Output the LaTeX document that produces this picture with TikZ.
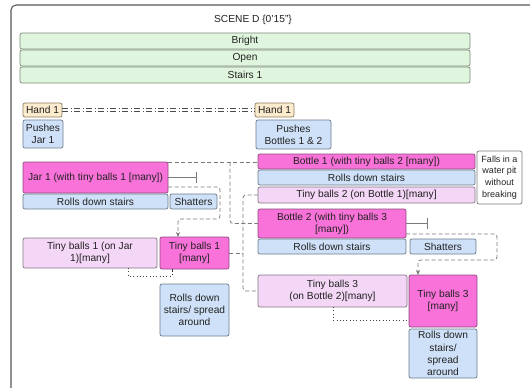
\documentclass[tikz,border=0pt]{standalone}
\usepackage{fontspec}
\setmainfont{Liberation Sans}
\usetikzlibrary{arrows.meta}
\definecolor{pinkF}{HTML}{F872D9}
\definecolor{pinkD}{HTML}{8E4A80}
\definecolor{lpinkF}{HTML}{F4D6F6}
\definecolor{lpinkD}{HTML}{857887}
\definecolor{blueF}{HTML}{CFE1F8}
\definecolor{blueD}{HTML}{6C7C8E}
\definecolor{greenF}{HTML}{DFF5DD}
\definecolor{greenD}{HTML}{7A8A77}
\definecolor{creamF}{HTML}{FCEBCC}
\definecolor{creamD}{HTML}{8C7C60}
\definecolor{linkC}{HTML}{7A7A7A}
\definecolor{inkC}{HTML}{222222}
\newcommand\mkbox[6]{\node[#1, anchor=north west, minimum width=#4pt, minimum height=#5pt] (#2) at (#3) {#6};}
\begin{document}
\begin{tikzpicture}[x=1pt, y=-1pt,
  font=\fontsize{10.2}{12.2}\selectfont, text=inkC,
  card/.style={draw, rounded corners=2pt, inner sep=0pt, outer sep=0pt, align=center, line width=0.7pt},
  pinkbox/.style={card, fill=pinkF, draw=pinkD},
  lpinkbox/.style={card, fill=lpinkF, draw=lpinkD},
  bluebox/.style={card, fill=blueF, draw=blueD},
  greenbox/.style={card, fill=greenF, draw=greenD},
  handbox/.style={card, fill=creamF, draw=creamD},
  notebox/.style={card, fill=white, draw=linkC, font=\fontsize{9}{11.8}\selectfont},
  link/.style={draw=linkC, line width=0.8pt, dash pattern=on 4pt off 2.5pt, rounded corners=3pt},
  trace/.style={draw=black!75, line width=0.9pt, dash pattern=on 0.9pt off 2.4pt},
  stop/.style={draw=linkC, line width=0.8pt, -{Bar[width=11pt, line width=0.8pt]}},
  flow/.style={link, -{Stealth[length=5pt, width=4pt, fill=black]}},
  tie/.style={draw=black!70, line width=0.7pt, dash pattern=on 6pt off 2.5pt on 1pt off 2.5pt}
]
\useasboundingbox (0,0) rectangle (530,388);
\fill[white] (0,0) rectangle (530,388);

% scene frame
\draw[black!65, line width=1.1pt, rounded corners=5pt] (11,392) -- (11,5) -- (534,5);
\node (title) at (253,20) {SCENE D \{0’15”\}};

% scene settings
\mkbox{greenbox}{bright}{20,33}{450}{16}{Bright}
\mkbox{greenbox}{open}{20,50}{450}{16}{Open}
\mkbox{greenbox}{stairs}{20,67}{450}{16}{Stairs 1}

% actors, tied by a double dash-dot line
\mkbox{handbox}{handL}{23,103}{39}{14}{Hand 1}
\mkbox{handbox}{handR}{255,103}{39}{14}{Hand 1}
\draw[tie] ([yshift=1.3pt]handL.east) -- ([yshift=1.3pt]handR.west);
\draw[tie] ([yshift=-1.3pt]handL.east) -- ([yshift=-1.3pt]handR.west);
\mkbox{bluebox}{pushJar}{23,120}{40}{28}{Pushes\\Jar 1}
\mkbox{bluebox}{pushBot}{256,120}{75}{29}{Pushes\\Bottles 1 \& 2}

% jar branch
\mkbox{pinkbox}{jar}{23,162}{145}{31}{Jar 1 (with tiny balls 1 [many])}
\mkbox{bluebox}{rollJar}{23,194}{145}{15}{Rolls down stairs}
\mkbox{bluebox}{shatJar}{170,194}{47}{15}{Shatters}
\mkbox{lpinkbox}{tbOnJar}{23,238}{134}{30}{Tiny balls 1 (on Jar\\1)[many]}
\mkbox{pinkbox}{tb1}{160,237}{69}{32}{Tiny balls 1\\{}[many]}
\mkbox{bluebox}{spread1}{160,284}{69}{52}{Rolls down\\stairs/ spread\\around}

% bottle branch
\mkbox{pinkbox}{bot1}{258,154}{217}{15}{Bottle 1 (with tiny balls 2 [many])}
\mkbox{bluebox}{rollBot1}{258,170}{217}{15}{Rolls down stairs}
\mkbox{lpinkbox}{tb2}{258,187}{217}{16}{Tiny balls 2 (on Bottle 1)[many]}
\mkbox{notebox}{falls}{477,151}{45}{53}{Falls in a\\water pit\\without\\breaking}
\mkbox{pinkbox}{bot2}{258,209}{148}{29}{Bottle 2 (with tiny balls 3\\{}[many])}
\mkbox{bluebox}{rollBot2}{258,239}{148}{15}{Rolls down stairs}
\mkbox{bluebox}{shatBot}{410,239}{66}{15}{Shatters}
\mkbox{lpinkbox}{tbOnBot}{258,275}{149}{32}{Tiny balls 3\\(on Bottle 2)[many]}
\mkbox{pinkbox}{tb3}{409,275}{68}{52}{Tiny balls 3\\{}[many]}
\mkbox{bluebox}{spread3}{409,329}{68}{49}{Rolls down\\stairs/\\spread\\around}

% blocked outcomes
\coordinate (jarStop) at (197,177);
\coordinate (botStop) at (428,223);
\draw[stop] (jar.east |- jarStop) -- (jarStop);
\draw[stop] (bot2.east |- botStop) -- (botStop);

% shattering releases the balls
\coordinate (jarOut) at (168,187);
\coordinate (jarLoop) at (220,219);
\coordinate (jarDrop) at (178,219);
\draw[flow] (jarOut) -| (jarLoop) -- (jarDrop) -- (jarDrop |- tb1.north);
\coordinate (botOut) at (406,234);
\coordinate (botLoop) at (497,260);
\coordinate (botDrop) at (418,260);
\draw[flow] (botOut) -| (botLoop) -- (botDrop) -- (botDrop |- tb3.north);

% links between the jar and the bottles
\coordinate (jarBus) at (230,162);
\draw[link] (jar.north east) -- (jar.north east -| bot1.west);
\draw[link] (jarBus) |- (bot2.west);

% links between the ball groups
\coordinate (ballBus) at (243,195);
\draw[link] (tb2.west) -- (ballBus) |- (tbOnBot.west);
\draw[link] (tb1.east) -- (tb1.east -| ballBus);

% dotted traces
\coordinate (t1a) at (128,276);
\coordinate (t1b) at (172,276);
\draw[trace] (t1a |- tbOnJar.south) -- (t1a) -- (t1b) -- (t1b |- tb1.south);
\draw[black!80, line width=1pt] (t1b |- tb1.south) -- ++(0,3);
\coordinate (t3a) at (333,320);
\draw[trace] (t3a |- tbOnBot.south) -- (t3a) -- (t3a -| tb3.west);
\end{tikzpicture}
\end{document}
